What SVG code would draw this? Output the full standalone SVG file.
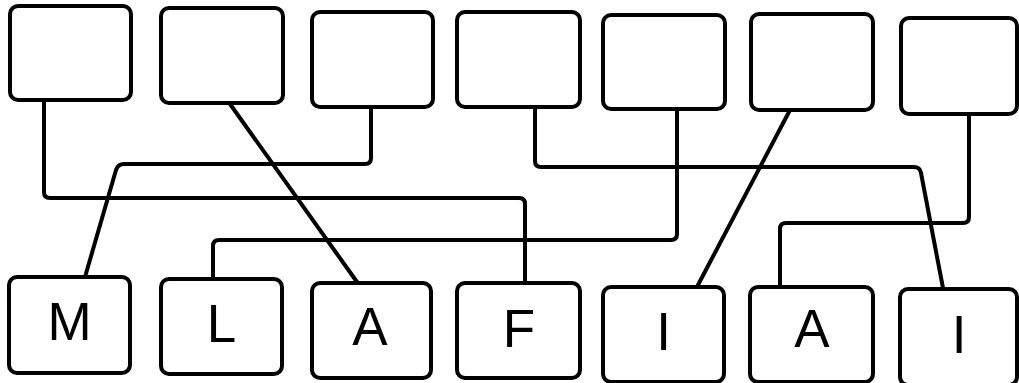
<svg xmlns="http://www.w3.org/2000/svg" width="1019" height="383" viewBox="0 0 1019 383">
<style>
.box{fill:#fff;stroke:#000;stroke-width:4}
.conn{fill:none;stroke:#000;stroke-width:4;stroke-linejoin:round;stroke-linecap:round}
.lbl{font-family:"Liberation Sans",Arial,sans-serif;font-size:53px;fill:#000;text-anchor:middle}
</style>
<rect width="1019" height="383" fill="#fff"/>
<g id="connectors">
<path class="conn" d="M44,100 V192 Q44,198 50,198 H519 Q525,198 525,204 V283"/>
<path class="conn" d="M230,104 L357,282"/>
<path class="conn" d="M371,107 V158 Q371,164 365,164 H124 Q118,164 116,170 L85,277"/>
<path class="conn" d="M535,107 V161 Q535,167 541,167 H914 Q920,167 921,173 L943,288"/>
<path class="conn" d="M677,109 V234 Q677,240 671,240 H219 Q213,240 213,246 V279"/>
<path class="conn" d="M790,110 L698,285"/>
<path class="conn" d="M969,114 V217 Q969,223 963,223 H786 Q780,223 780,229 V287"/>
</g>
<g id="top1"><rect class="box" x="10" y="6" width="121" height="94" rx="8"/></g>
<g id="top2"><rect class="box" x="161" y="8" width="122" height="95" rx="8"/></g>
<g id="top3"><rect class="box" x="312" y="12" width="121" height="95" rx="8"/></g>
<g id="top4"><rect class="box" x="457" y="12" width="123" height="95" rx="8"/></g>
<g id="top5"><rect class="box" x="603" y="15" width="122" height="94" rx="8"/></g>
<g id="top6"><rect class="box" x="751" y="14" width="122" height="96" rx="8"/></g>
<g id="top7"><rect class="box" x="901" y="18" width="116" height="96" rx="8"/></g>
<g id="bM"><rect class="box" x="9" y="277" width="121" height="96" rx="8"/><text class="lbl" x="69.5" y="340">M</text></g>
<g id="bL"><rect class="box" x="161" y="279" width="121" height="95" rx="8"/><text class="lbl" x="221.5" y="342">L</text></g>
<g id="bA"><rect class="box" x="312" y="283" width="119" height="95" rx="8"/><text class="lbl" x="370" y="345">A</text></g>
<g id="bF"><rect class="box" x="457" y="283" width="123" height="95" rx="8"/><text class="lbl" x="519" y="347">F</text></g>
<g id="bI"><rect class="box" x="603" y="287" width="121" height="95" rx="8"/><text class="lbl" x="663.5" y="350">I</text></g>
<g id="bA2"><rect class="box" x="750" y="287" width="123" height="95" rx="8"/><text class="lbl" x="812" y="347">A</text></g>
<g id="bI2"><rect class="box" x="900" y="289" width="117" height="96" rx="8"/><text class="lbl" x="959" y="353">I</text></g>
</svg>
